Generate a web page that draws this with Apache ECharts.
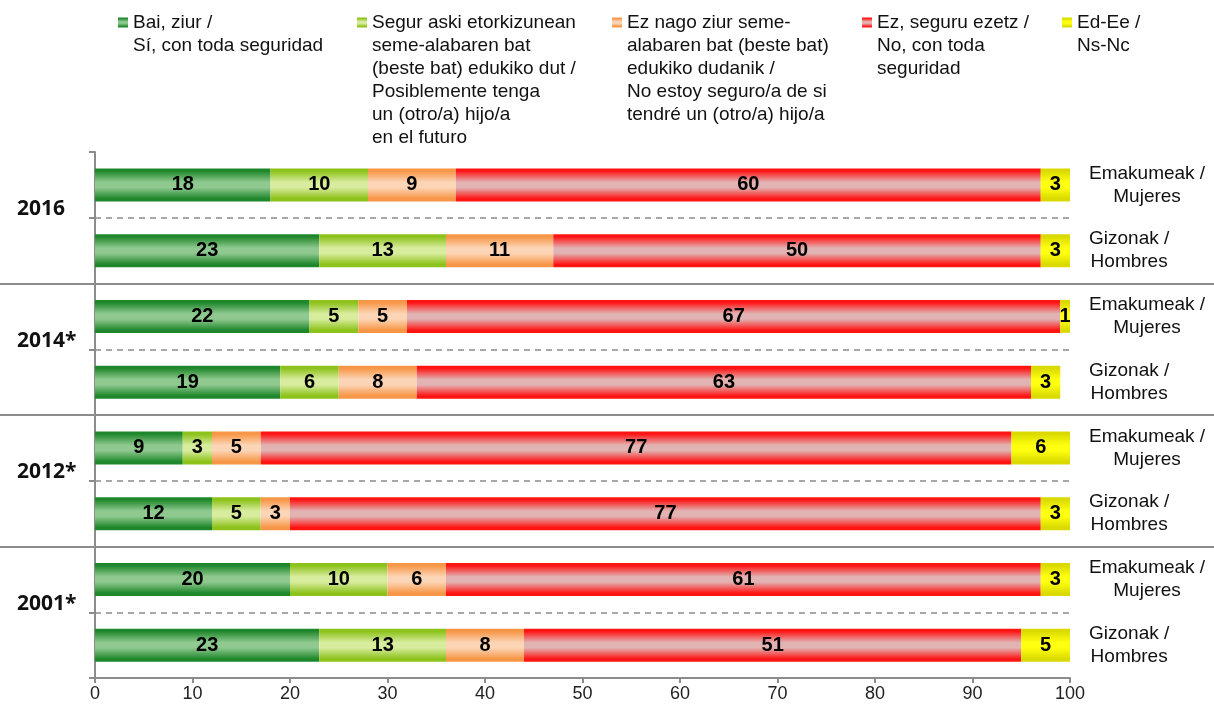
<!DOCTYPE html>
<html>
<head>
<meta charset="utf-8">
<title>Seme-alabarik izateko asmoa</title>
<script src="https://cdn.jsdelivr.net/npm/echarts@6/dist/echarts.min.js"></script>
<style>
  html, body { margin: 0; padding: 0; background: #ffffff; }
  #chart { width: 1214px; height: 705px; }
</style>
</head>
<body>
<div id="chart"></div>
<script>
/*******************************************************************/
/****************************** data *******************************/
/*******************************************************************/

// Year groups (top to bottom), each with one row per sex
var years = ['2016', '2014*', '2012*', '2001*'];
var sexes = ['Emakumeak / Mujeres', 'Gizonak / Hombres'];

var seriesNames = [
  'Bai, ziur /\nSí, con toda seguridad',
  'Segur aski etorkizunean\nseme-alabaren bat\n(beste bat) edukiko dut /\nPosiblemente tenga\nun (otro/a) hijo/a\nen el futuro',
  'Ez nago ziur seme-\nalabaren bat (beste bat)\nedukiko dudanik /\nNo estoy seguro/a de si\ntendré un (otro/a) hijo/a',
  'Ez, seguru ezetz /\nNo, con toda\nseguridad',
  'Ed-Ee /\nNs-Nc',
];

// rows: 2016 E, 2016 G, 2014* E, 2014* G, 2012* E, 2012* G, 2001* E, 2001* G
var baiZiur = [18, 23, 22, 19, 9, 12, 20, 23];
var segurAski = [10, 13, 5, 6, 3, 5, 10, 13];
var ezNagoZiur = [9, 11, 5, 8, 5, 3, 6, 8];
var ezSeguru = [60, 50, 67, 63, 77, 77, 61, 51];
var edEe = [3, 3, 1, 3, 6, 3, 3, 5];

var xTicks = { min: 0, max: 100, interval: 10 };

/*******************************************************************/
/***************************** styling *****************************/
/*******************************************************************/

// [edge, centre] colour of each bar's cylinder shading
var barShades = [
  ['#1f872b', '#8fc98f'],
  ['#8cc21a', '#d8ec9e'],
  ['#f79646', '#fcd5b6'],
  ['#ff1414', '#e2b3b3'],
  ['#dada00', '#ffff10'],
];

var AXIS_GREY = '#8c8c8c';
var TEXT_FONT = 'Liberation Sans';

function shade(pair) {
  return new echarts.graphic.LinearGradient(0, 0, 0, 1, [
    { offset: 0, color: pair[0] },
    { offset: 0.08, color: pair[0] },
    { offset: 0.42, color: pair[1] },
    { offset: 0.58, color: pair[1] },
    { offset: 0.92, color: pair[0] },
    { offset: 1, color: pair[0] },
  ]);
}

// one category per row (year + sex)
var rowKeys = [];
years.forEach(function (y) {
  sexes.forEach(function (s) {
    rowKeys.push(y + '|' + s);
  });
});

var values = [baiZiur, segurAski, ezNagoZiur, ezSeguru, edEe];

/*******************************************************************/
/****************************** chart ******************************/
/*******************************************************************/

var chart = echarts.init(document.getElementById('chart'), null, { renderer: 'canvas' });

// legend: one block per series, icon drawn inline on the first line
var legendLeft = [113, 352, 607, 857, 1057];
var legends = seriesNames.map(function (name, i) {
  return {
    data: [name],
    left: legendLeft[i],
    top: 11,
    padding: 0,
    itemWidth: 0,
    itemHeight: 0,
    selectedMode: false,
    formatter: function (n) {
      var lines = n.split('\n');
      return lines
        .map(function (l, k) {
          return (k === 0 ? '{i| }{g| }' : '{s| }') + '{t|' + l + '}';
        })
        .join('\n');
    },
    textStyle: {
      fontFamily: TEXT_FONT,
      fontSize: 19,
      lineHeight: 23,
      color: '#111',
      rich: {
        i: { width: 10, height: 10, lineHeight: 23, backgroundColor: shade(barShades[i]) },
        g: { width: 5, lineHeight: 23 },
        s: { width: 15, lineHeight: 23 },
        t: { fontFamily: TEXT_FONT, fontSize: 19, lineHeight: 23, color: '#111' },
      },
    },
  };
});

var series = values.map(function (arr, i) {
  return {
    name: seriesNames[i],
    type: 'bar',
    stack: 'total',
    barWidth: 33,
    data: arr,
    itemStyle: { color: shade(barShades[i]) },
    label: {
      show: true,
      position: 'inside',
      color: '#000',
      fontFamily: TEXT_FONT,
      fontWeight: 'bold',
      fontSize: 20,
    },
  };
});

var option = {
  animation: false,
  backgroundColor: '#ffffff',
  legend: legends,
  grid: { left: 95, right: 144, top: 152, bottom: 27 },
  xAxis: {
    type: 'value',
    min: xTicks.min,
    max: xTicks.max,
    interval: xTicks.interval,
    axisLine: { show: true, lineStyle: { color: AXIS_GREY, width: 2 } },
    axisTick: { show: true, length: 5, lineStyle: { color: AXIS_GREY, width: 2 } },
    splitLine: { show: false },
    axisLabel: { fontFamily: TEXT_FONT, fontSize: 18, color: '#222', margin: 7 },
  },
  yAxis: [
    {
      // rows
      type: 'category',
      data: rowKeys,
      inverse: true,
      axisLine: { show: true, lineStyle: { color: AXIS_GREY, width: 2 } },
      axisTick: { show: true, interval: 0, length: 6, lineStyle: { color: AXIS_GREY, width: 2 } },
      axisLabel: { show: false },
      splitLine: {
        show: true,
        interval: function (index) {
          return index % 2 === 1;
        },
        lineStyle: { color: AXIS_GREY, width: 1.5, type: [6, 5] },
      },
    },
    {
      // year groups
      type: 'category',
      position: 'left',
      data: years,
      inverse: true,
      axisLine: { show: false },
      axisTick: { show: false },
      splitLine: { show: false },
      axisLabel: {
        margin: 78,
        align: 'left',
        verticalAlign: 'bottom',
        padding: [0, 0, -2, 0],
        fontFamily: 'Open Sans',
        fontWeight: 'bold',
        fontSize: 21,
        color: '#111',
      },
    },
    {
      // sex labels on the right
      type: 'category',
      position: 'right',
      data: rowKeys,
      inverse: true,
      axisLine: { show: false },
      axisTick: { show: false },
      splitLine: { show: false },
      axisLabel: {
        margin: 19,
        align: 'left',
        interval: 0,
        formatter: function (v) {
          var parts = v.split('|')[1].split(' / ');
          return '{c|' + parts[0] + ' /}\n{c|' + parts[1] + '}';
        },
        rich: {
          c: { align: 'center', fontFamily: TEXT_FONT, fontSize: 19, lineHeight: 23, color: '#111' },
        },
      },
    },
  ],
  series: series,
};

chart.setOption(option);

// solid separators between year groups, across the whole page
var sepLines = [];
for (var g = 1; g < years.length; g++) {
  var a = chart.convertToPixel({ yAxisIndex: 0 }, rowKeys[g * 2 - 1]);
  var b = chart.convertToPixel({ yAxisIndex: 0 }, rowKeys[g * 2]);
  var y = Math.round((a + b) / 2);
  sepLines.push({
    type: 'line',
    shape: { x1: 0, y1: y, x2: chart.getWidth(), y2: y },
    style: { stroke: AXIS_GREY, lineWidth: 2 },
    z: 10,
  });
}
chart.setOption({ graphic: sepLines });
</script>
</body>
</html>
